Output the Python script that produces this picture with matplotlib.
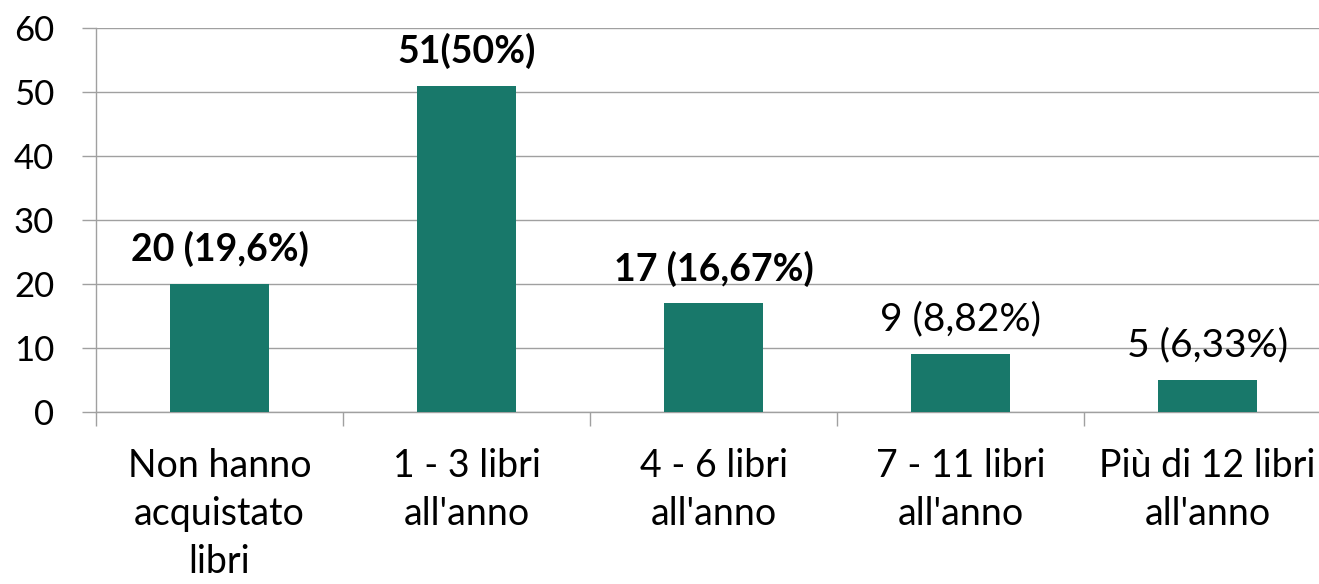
import matplotlib.pyplot as plt
import numpy as np

categories = ["Non hanno\nacquistato\nlibri", "1 - 3 libri\nall'anno", "4 - 6 libri\nall'anno",
              "7 - 11 libri\nall'anno", "Più di 12 libri\nall'anno"]
values = [20, 51, 17, 9, 5]
labels = ["20 (19,6%)", "51(50%)", "17 (16,67%)", "9 (8,82%)", "5 (6,33%)"]
label_bold = [True, True, True, False, False]

plt.rcParams['font.family'] = ['Lato', 'DejaVu Sans']

fig = plt.figure(figsize=(13.19, 5.84), dpi=100)
ax = fig.add_axes([96 / 1319, 172 / 584, (1331 - 96) / 1319, 384 / 584])

x = np.arange(len(values))
bars = ax.bar(x, values, width=0.4, color="#18786a", zorder=3)

for xi, v, lab, b in zip(x, values, labels, label_bold):
    ax.annotate(lab, (xi, v), xytext=(0, 25), textcoords="offset points",
                ha="center", va="center", fontsize=27 if b else 28,
                fontweight="bold" if b else "normal", color="black", zorder=4)

ax.set_xlim(-0.5, len(values) - 0.5)
ax.set_ylim(0, 60)
ax.set_yticks(range(0, 61, 10))
ax.tick_params(axis="y", length=10, width=1, color="#a0a0a0", labelsize=25, pad=20)
ax.yaxis.grid(True, color="#a0a0a0", linewidth=1, zorder=0)

ax.set_xticks(np.arange(-0.5, len(values), 1))
ax.set_xticklabels([])
ax.set_xticks(x, minor=True)
ax.set_xticklabels(categories, minor=True, fontsize=27, linespacing=1.42)
ax.tick_params(axis="x", which="major", length=10, width=1, color="#a0a0a0")
ax.tick_params(axis="x", which="minor", length=0, pad=26)

for s in ["top", "right"]:
    ax.spines[s].set_visible(False)
for s in ["left", "bottom"]:
    ax.spines[s].set_color("#a0a0a0")
    ax.spines[s].set_linewidth(1)

fig.savefig("out.png", dpi=100)
